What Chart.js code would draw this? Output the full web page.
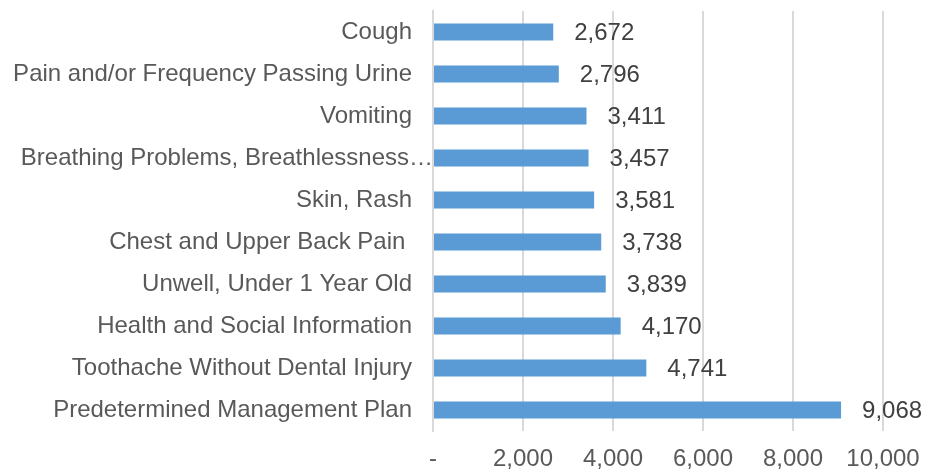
<!DOCTYPE html>
<html>
<head>
<meta charset="utf-8">
<script src="https://cdn.jsdelivr.net/npm/chart.js@4"></script>
<style>
    html, body { margin: 0; padding: 0; background: #fff; }
    #wrap { width: 925px; height: 470px; }
</style>
</head>
<body>
<div id="wrap"><canvas id="reasonsChart" width="925" height="470"></canvas></div>
<script>
const categories = [
    "Cough",
    "Pain and/or Frequency Passing Urine",
    "Vomiting",
    "Breathing Problems, Breathlessness…",
    "Skin, Rash",
    "Chest and Upper Back Pain ",
    "Unwell, Under 1 Year Old",
    "Health and Social Information",
    "Toothache Without Dental Injury",
    "Predetermined Management Plan",
];
const callCounts = [2672, 2796, 3411, 3457, 3581, 3738, 3839, 4170, 4741, 9068];
const xTicks = [0, 2000, 4000, 6000, 8000, 10000];

const FONT = "'Liberation Sans', Arial, sans-serif";
const LONG_LABEL = 3; // truncated label that runs up to the axis
const fmt = (v) => (v === 0 ? "-" : v.toLocaleString("en-US"));

// value labels next to each bar + the overflowing category label
const valueLabels = {
    id: "valueLabels",
    afterDatasetsDraw(chart) {
        const { ctx, chartArea } = chart;
        const meta = chart.getDatasetMeta(0);
        ctx.save();
        ctx.font = "24px " + FONT;
        ctx.fillStyle = "#404040";
        ctx.textBaseline = "middle";
        ctx.textAlign = "left";
        meta.data.forEach((bar, i) => {
            ctx.fillText(fmt(callCounts[i]), bar.x + 21, bar.y + 1);
        });
        const yScale = chart.scales.y;
        ctx.fillStyle = "#595959";
        ctx.textAlign = "right";
        ctx.fillText(categories[LONG_LABEL], chartArea.left, yScale.getPixelForValue(LONG_LABEL));
        ctx.restore();
    },
};

document.addEventListener("DOMContentLoaded", () => {
    const ctx = document.getElementById("reasonsChart").getContext("2d");
    new Chart(ctx, {
        type: "bar",
        data: {
            labels: categories,
            datasets: [
                {
                    data: callCounts,
                    backgroundColor: "#5B9BD5",
                    borderWidth: 0,
                    barPercentage: 0.8,
                    categoryPercentage: 0.5,
                },
            ],
        },
        options: {
            indexAxis: "y",
            responsive: false,
            animation: false,
            layout: { padding: { top: 11, right: 42, bottom: 0, left: 0 } },
            plugins: {
                legend: { display: false },
                tooltip: { enabled: false },
            },
            scales: {
                x: {
                    min: 0,
                    max: 10000,
                    afterBuildTicks: (scale) => {
                        scale.ticks = xTicks.map((v) => ({ value: v }));
                    },
                    afterFit: (scale) => {
                        scale.height = 39;
                        scale.paddingLeft = 0;
                        scale.paddingRight = 0;
                    },
                    ticks: {
                        callback: (value) => fmt(value),
                        color: "#595959",
                        font: { family: FONT, size: 24 },
                        padding: 14,
                        maxRotation: 0,
                    },
                    grid: { color: "#d9d9d9", lineWidth: 2, drawTicks: false },
                    border: { display: false },
                },
                y: {
                    afterFit: (scale) => {
                        scale.width = 433;
                        scale.paddingTop = 0;
                        scale.paddingBottom = 0;
                    },
                    ticks: {
                        color: (c) => (c.index === LONG_LABEL ? "rgba(0,0,0,0)" : "#595959"),
                        font: { family: FONT, size: 24 },
                        padding: 21,
                        autoSkip: false,
                    },
                    grid: { display: false, drawTicks: false },
                    border: { display: true, color: "#d9d9d9", width: 2 },
                },
            },
        },
        plugins: [valueLabels],
    });
});
</script>
</body>
</html>
